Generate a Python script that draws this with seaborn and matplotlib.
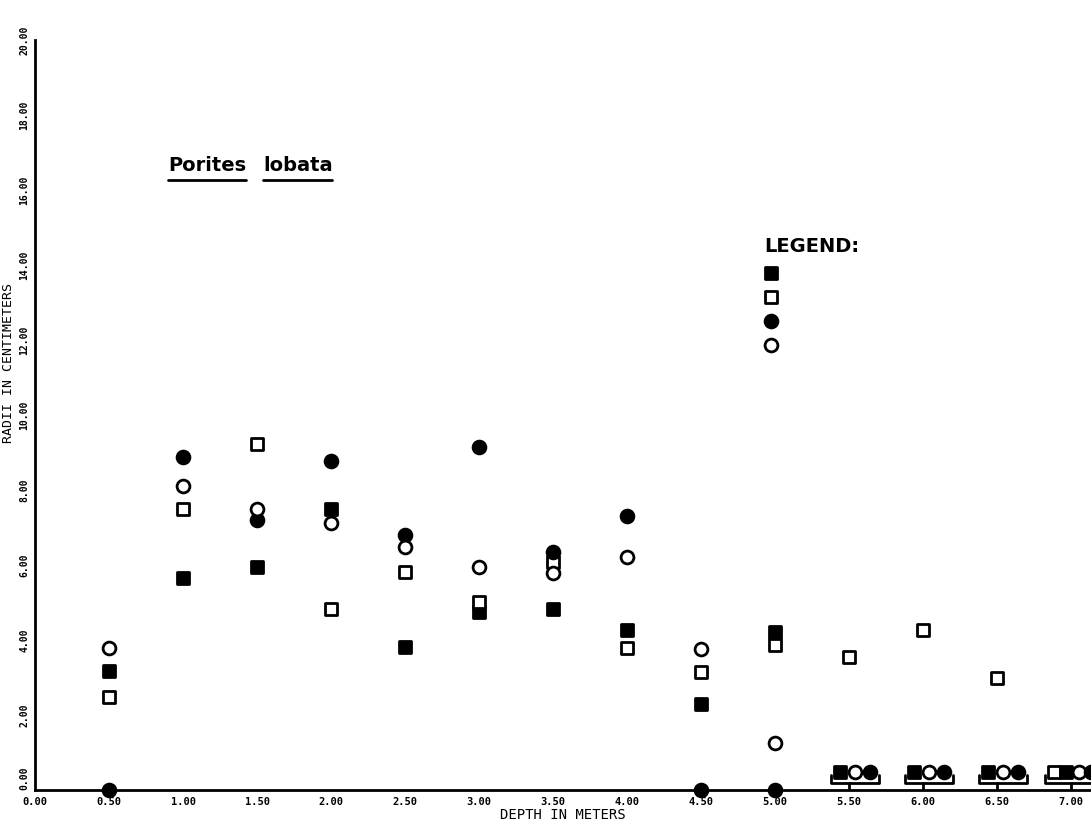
import numpy as np
import pandas as pd
import seaborn as sns
import matplotlib.pyplot as plt

# values (radii in cm); 0 at depth >= 5.5 are the "zero" groups
depth = [0.5, 1.0, 1.5, 2.0, 2.5, 3.0, 3.5, 4.0, 4.5, 5.0, 5.5, 6.0, 6.5, 7.0]
filled_sq = [3.18, 5.65, 5.95, 7.49, 3.82, 4.75, 4.83, 4.27, 2.29, 4.21, 0, 0, 0, 0]
open_sq = [2.47, 7.49, 9.22, 4.83, 5.82, 5.02, 6.09, 3.78, 3.15, 3.87, 3.56, 4.27, 2.99, 0]
filled_ci = [0, 8.89, 7.20, 8.78, 6.80, 9.15, 6.35, 7.32, 0, 0, 0, 0, 0, 0]
open_ci = [3.80, 8.11, 7.49, 7.12, 6.49, 5.95, 5.80, 6.22, 3.75, 1.26, 0, 0, 0, 0]

x_ticks = np.arange(0, 7.01, 0.5)
y_ticks = np.arange(0, 20.01, 2)

series = [
    ('filled square', filled_sq, 's', 'black'),
    ('open square', open_sq, 's', 'white'),
    ('filled circle', filled_ci, 'o', 'black'),
    ('open circle', open_ci, 'o', 'white'),
]
group_order = ['open square', 'filled square', 'open circle', 'filled circle']

sns.set_theme(style='white')
plt.rcParams['font.family'] = ['DejaVu Sans Mono', 'DejaVu Sans']
plt.rcParams['text.color'] = 'black'
plt.rcParams['axes.labelcolor'] = 'black'
plt.rcParams['xtick.color'] = 'black'
plt.rcParams['ytick.color'] = 'black'

fig = plt.figure(figsize=(10.91, 8.25), dpi=100)
ax = fig.add_axes([35 / 1091, 35 / 825, 1056 / 1091, 750 / 825])

MS = 85
LW = 2.0

df = pd.DataFrame({'depth': depth})
for name, vals, mk, fc in series:
    df[name] = vals
    # regular points (zeros up to 5 m sit on the axis)
    sub = df[(df[name] > 0) | (df['depth'] <= 5.0)]
    sns.scatterplot(data=sub, x='depth', y=name, marker=mk, s=MS, color=fc,
                    edgecolor='black', linewidth=LW, ax=ax, label=name,
                    zorder=3, clip_on=False)

# grouped zero values beyond 5 m, drawn side by side on a small bracket
gy = 0.48
for d in depth:
    if d <= 5.0:
        continue
    members = [n for n in group_order if df.loc[df['depth'] == d, n].iloc[0] == 0]
    n = len(members)
    if n == 3:
        shift, step = 0.04, 0.1
    else:
        shift, step = 0.01, 0.085
    xs = [d + shift + (i - (n - 1) / 2) * step for i in range(n)]
    for xg, nm in zip(xs, members):
        _, _, mk, fc = [s for s in series if s[0] == nm][0]
        sns.scatterplot(x=[xg], y=[gy], marker=mk, s=MS, color=fc,
                        edgecolor='black', linewidth=LW, ax=ax, legend=False,
                        zorder=3)
    x0, x1 = xs[0] - 0.06, xs[-1] + 0.06
    ax.plot([x0, x0, x1, x1], [gy - 0.08, gy - 0.28, gy - 0.28, gy - 0.08],
            color='black', lw=2)
    ax.plot([d, d], [gy - 0.28, 0], color='black', lw=2)

ax.set_xlim(0, 7.135)
ax.set_ylim(0, 20)
ax.set_xticks(x_ticks)
ax.set_yticks(y_ticks)
ax.set_xticklabels(['%.2f' % v for v in x_ticks], fontsize=7.5, fontweight='bold')
ax.set_yticklabels(['%.2f' % v for v in y_ticks], fontsize=7, fontweight='bold',
                   rotation=90, va='center')
ax.get_yticklabels()[0].set_va('bottom')
ax.tick_params(axis='both', direction='inout', length=6, width=1.5, color='black')
ax.tick_params(axis='x', pad=2)
ax.tick_params(axis='y', pad=1)

for sp in ['top', 'right']:
    ax.spines[sp].set_visible(False)
for sp in ['left', 'bottom']:
    ax.spines[sp].set_color('black')
    ax.spines[sp].set_linewidth(2)

ax.set_xlabel('DEPTH IN METERS', fontsize=10, labelpad=1)
ax.set_ylabel('RADII IN CENTIMETERS', fontsize=9.5)
ax.yaxis.set_label_coords(-0.019, 0.57)

# species name, underlined word by word
ax.text(0.126, 0.833, 'Porites', transform=ax.transAxes, fontsize=14,
        fontweight='bold', family='DejaVu Sans', va='center')
ax.text(0.216, 0.833, 'lobata', transform=ax.transAxes, fontsize=14,
        fontweight='bold', family='DejaVu Sans', va='center')
ax.plot([0.126, 0.2], [0.813, 0.813], transform=ax.transAxes, color='black', lw=2)
ax.plot([0.216, 0.281], [0.813, 0.813], transform=ax.transAxes, color='black', lw=2)

# legend without labels, as on the original
handles, labels = ax.get_legend_handles_labels()
leg = ax.legend(handles, [''] * len(handles), title='LEGEND:', loc='upper left',
                bbox_to_anchor=(0.684, 0.747), frameon=False, borderpad=0,
                handlelength=1.0, handletextpad=0, labelspacing=0.72,
                alignment='left', fontsize=10,
                title_fontproperties={'size': 14, 'weight': 'bold', 'family': 'DejaVu Sans'})

plt.savefig('out.png', dpi=100)
